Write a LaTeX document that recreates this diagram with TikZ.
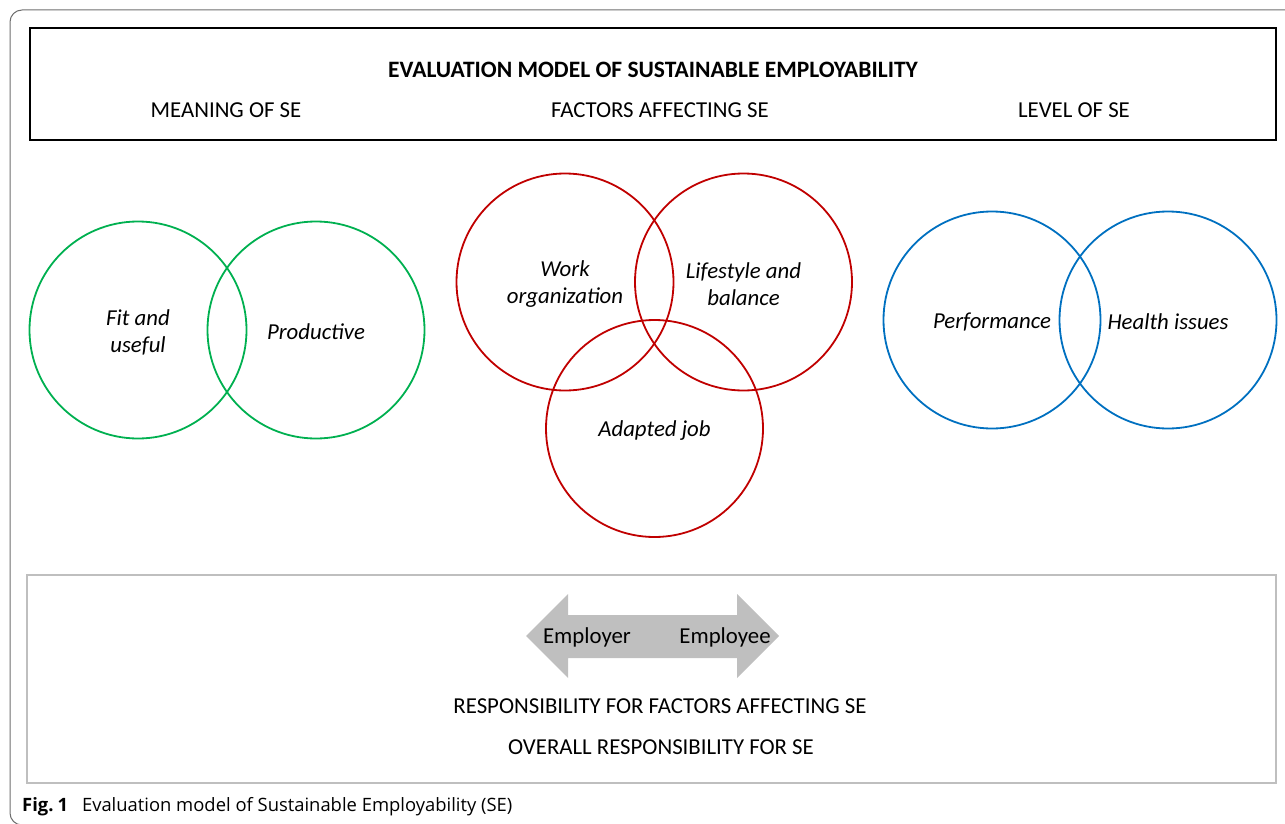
\documentclass[tikz,border=0pt]{standalone}
\usepackage{fontspec}
\setmainfont{Carlito}
\newfontfamily\capfont{Open Sans}
\usetikzlibrary{calc}
\definecolor{vgreen}{HTML}{00B050}
\definecolor{vred}{HTML}{C00000}
\definecolor{vblue}{HTML}{0070C0}
\definecolor{lgray}{HTML}{BFBFBF}
\definecolor{fgray}{HTML}{6E6E6E}
\tikzset{
  venn/.style={circle, draw, line width=1.8pt, minimum size=217pt, inner sep=0pt},
  vtext/.style={inner sep=0pt, align=center, font=\fontsize{22.8}{27}\selectfont\itshape},
  lbl/.style={inner sep=0pt, font=\fontsize{22.8}{27}\selectfont},
}
\begin{document}
\begin{tikzpicture}[x=1pt,y=-1pt]
\useasboundingbox (0,0) rectangle (1285,824);
% outer frame
\draw[fgray, line width=1pt, rounded corners=12pt] (1290,10) -- (10,10) -- (10,825) -- (40,825);
% top box
\draw[black, line width=2pt] (30,28) rectangle (1276,140);
\node[lbl, font=\fontsize{23.5}{27}\selectfont\bfseries] (title) at (653,70) {EVALUATION MODEL OF SUSTAINABLE EMPLOYABILITY};
\node[lbl] (meaning) at (226,110) {MEANING OF SE};
\node[lbl] (factors) at (660,110) {FACTORS AFFECTING SE};
\node[lbl] (level) at (1074,110) {LEVEL OF SE};
% green
\node[venn, vgreen] (fit) at (138,330) {};
\node[venn, vgreen] (prod) at (316,330) {};
% red
\node[venn, vred] (work) at (565,282) {};
\node[venn, vred] (life) at (743.5,282) {};
\node[venn, vred] (adapt) at (654.5,428.5) {};
% blue
\node[venn, vblue] (perf) at (992,320) {};
\node[venn, vblue] (health) at (1168,320) {};
% labels
\node[vtext] (fitt) at ([yshift=-2.5pt]fit.center) {Fit and\\useful};
\node[vtext] (prodt) at ([yshift=-2pt]prod.center) {Productive};
\node[vtext] (workt) at ([yshift=-2.5pt]work.center) {Work\\organization};
\node[vtext] (lifet) at ([yshift=-2.5pt]life.center) {Lifestyle and\\balance};
\node[vtext] (adaptt) at ([yshift=-2.5pt]adapt.center) {Adapted job};
\node[vtext] (perft) at ([yshift=-2pt]perf.center) {Performance};
\node[vtext] (healtht) at ([yshift=-2pt]health.center) {Health issues};
% bottom box
\draw[lgray, line width=2pt] (27,575) rectangle (1276,783);
\fill[lgray] (526,636) -- (568,594) -- (568,615) -- (737,615) -- (737,594) -- (779,636) -- (737,678) -- (737,658) -- (568,658) -- (568,678) -- cycle;
\node[lbl] (employer) at (587,637) {Employer};
\node[lbl] (employee) at (725,637) {Employee};
\node[lbl] (resp) at (660,706) {RESPONSIBILITY FOR FACTORS AFFECTING SE};
\node[lbl] (overall) at (661,747) {OVERALL RESPONSIBILITY FOR SE};
% caption
\node[anchor=base west, inner sep=0pt, font=\capfont\fontsize{18.4}{22}\selectfont] (cap) at (22,811) {\textbf{Fig.\hspace{4pt}1}\hspace{14pt}Evaluation model of Sustainable Employability (SE)};
\end{tikzpicture}
\end{document}
